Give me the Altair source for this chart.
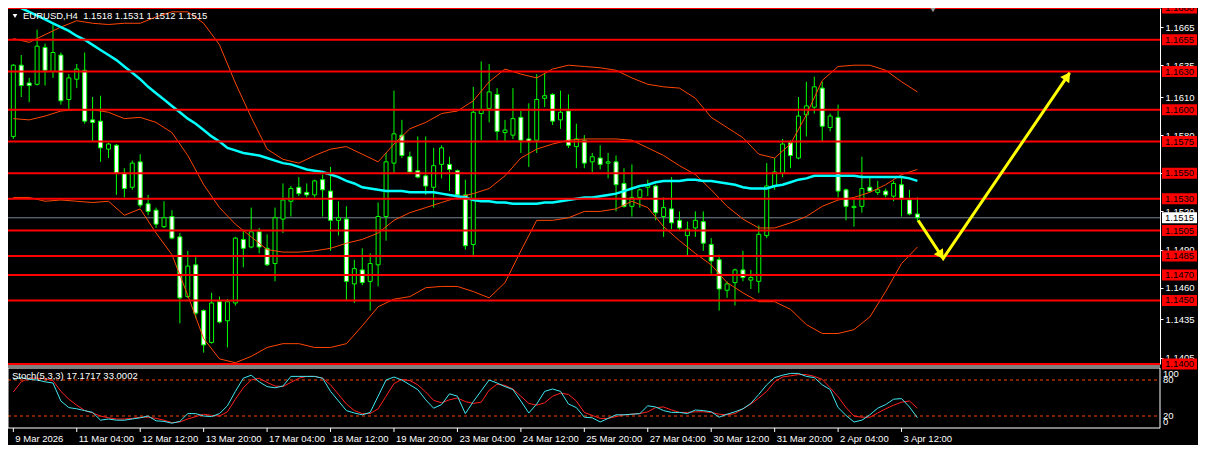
import math
import altair as alt
import pandas as pd

# ---------------- data (EURUSD H4) ----------------
opens = [1.1579, 1.1635, 1.1621, 1.1620, 1.1649, 1.1630, 1.1643, 1.1608, 1.1624, 1.1631,
         1.1592, 1.1591, 1.1569, 1.1572, 1.1550, 1.1539, 1.1559, 1.1526, 1.1521, 1.1508,
         1.1516, 1.1500, 1.1453, 1.1478, 1.1442, 1.1417, 1.1449, 1.1434, 1.1448, 1.1498,
         1.1492, 1.1504, 1.1491, 1.1479, 1.1514, 1.1528, 1.1539, 1.1535, 1.1533, 1.1545,
         1.1536, 1.1513, 1.1514, 1.1463, 1.1474, 1.1465, 1.1478, 1.1516, 1.1558, 1.1580,
         1.1563, 1.1552, 1.1548, 1.1539, 1.1557, 1.1557, 1.1552, 1.1533, 1.1494, 1.1597,
         1.1601, 1.1612, 1.1582, 1.1580, 1.1594, 1.1577, 1.1576, 1.1609, 1.1612, 1.1592,
         1.1599, 1.1571, 1.1576, 1.1559, 1.1562, 1.1558, 1.1559, 1.1542, 1.1524, 1.1531,
         1.1539, 1.1540, 1.1516, 1.1522, 1.1513, 1.1501, 1.1507, 1.1512, 1.1494, 1.1482,
         1.1458, 1.1464, 1.1474, 1.1466, 1.1465, 1.1501, 1.1540, 1.1550, 1.1574, 1.1562,
         1.1596, 1.1602, 1.1617, 1.1586, 1.1594, 1.1537, 1.1523, 1.1524, 1.1539, 1.1535,
         1.1536, 1.1532, 1.1541, 1.1529, 1.1518]
highs = [1.1636, 1.1643, 1.1625, 1.1663, 1.1652, 1.1667, 1.1645, 1.1628, 1.1636, 1.1645,
         1.1610, 1.1611, 1.1574, 1.1573, 1.1554, 1.1560, 1.1565, 1.1533, 1.1523, 1.1528,
         1.1521, 1.1503, 1.1489, 1.1484, 1.1443, 1.1456, 1.1453, 1.1451, 1.1500, 1.1505,
         1.1523, 1.1507, 1.1502, 1.1523, 1.1542, 1.1540, 1.1547, 1.1542, 1.1545, 1.1549,
         1.1555, 1.1528, 1.1524, 1.1482, 1.1491, 1.1487, 1.1527, 1.1566, 1.1615, 1.1592,
         1.1567, 1.1579, 1.1579, 1.1570, 1.1572, 1.1563, 1.1553, 1.1545, 1.1618, 1.1638,
         1.1636, 1.1617, 1.1592, 1.1617, 1.1599, 1.1605, 1.1628, 1.1629, 1.1613, 1.1615,
         1.1612, 1.1589, 1.1580, 1.1566, 1.1572, 1.1566, 1.1564, 1.1554, 1.1557, 1.1538,
         1.1545, 1.1541, 1.1531, 1.1547, 1.1520, 1.1512, 1.1520, 1.1520, 1.1499, 1.1486,
         1.1465, 1.1475, 1.1489, 1.1474, 1.1509, 1.1558, 1.1562, 1.1577, 1.1576, 1.1610,
         1.1622, 1.1626, 1.1622, 1.1597, 1.1604, 1.1538, 1.1531, 1.1563, 1.1547, 1.1544,
         1.1538, 1.1544, 1.1548, 1.1537, 1.1531]
lows = [1.1577, 1.1610, 1.1606, 1.1619, 1.1619, 1.1625, 1.1604, 1.1600, 1.1617, 1.1589,
        1.1575, 1.1559, 1.1562, 1.1533, 1.1531, 1.1537, 1.1523, 1.1517, 1.1507, 1.1507,
        1.1498, 1.1432, 1.1452, 1.1436, 1.1409, 1.1416, 1.1432, 1.1413, 1.1446, 1.1476,
        1.1491, 1.1487, 1.1477, 1.1465, 1.1503, 1.1516, 1.1532, 1.1531, 1.1531, 1.1516,
        1.1489, 1.1501, 1.1450, 1.1448, 1.1462, 1.1442, 1.1461, 1.1497, 1.1550, 1.1562,
        1.1550, 1.1546, 1.1533, 1.1523, 1.1546, 1.1536, 1.1532, 1.1490, 1.1484, 1.1576,
        1.1590, 1.1576, 1.1575, 1.1577, 1.1566, 1.1555, 1.1566, 1.1602, 1.1588, 1.1585,
        1.1570, 1.1554, 1.1554, 1.1551, 1.1553, 1.1546, 1.1520, 1.1523, 1.1516, 1.1523,
        1.1532, 1.1513, 1.1500, 1.1506, 1.1505, 1.1485, 1.1500, 1.1489, 1.1471, 1.1442,
        1.1452, 1.1446, 1.1465, 1.1459, 1.1456, 1.1499, 1.1537, 1.1547, 1.1554, 1.1561,
        1.1579, 1.1597, 1.1575, 1.1583, 1.1531, 1.1513, 1.1508, 1.1519, 1.1535, 1.1533,
        1.1531, 1.1528, 1.1516, 1.1517, 1.1512]
closes = [1.1635, 1.1619, 1.1619, 1.1650, 1.1631, 1.1645, 1.1607, 1.1625, 1.1632, 1.1591,
          1.1590, 1.1570, 1.1573, 1.1550, 1.1538, 1.1558, 1.1525, 1.1520, 1.1510, 1.1515,
          1.1499, 1.1452, 1.1477, 1.1440, 1.1415, 1.1448, 1.1433, 1.1449, 1.1499, 1.1491,
          1.1504, 1.1492, 1.1478, 1.1515, 1.1529, 1.1538, 1.1534, 1.1533, 1.1544, 1.1537,
          1.1513, 1.1515, 1.1465, 1.1475, 1.1464, 1.1479, 1.1516, 1.1559, 1.1581, 1.1564,
          1.1551, 1.1547, 1.1540, 1.1556, 1.1570, 1.1553, 1.1533, 1.1493, 1.1598, 1.1600,
          1.1614, 1.1583, 1.1584, 1.1593, 1.1576, 1.1575, 1.1608, 1.1611, 1.1591, 1.1598,
          1.1572, 1.1577, 1.1558, 1.1563, 1.1557, 1.1559, 1.1541, 1.1524, 1.1531, 1.1537,
          1.1541, 1.1519, 1.1523, 1.1511, 1.1507, 1.1506, 1.1513, 1.1495, 1.1481, 1.1459,
          1.1463, 1.1474, 1.1468, 1.1468, 1.1502, 1.1540, 1.1551, 1.1573, 1.1564, 1.1595,
          1.1603, 1.1618, 1.1587, 1.1595, 1.1536, 1.1524, 1.1524, 1.1538, 1.1536, 1.1537,
          1.1533, 1.1542, 1.1530, 1.1518, 1.1515]

ma_line = [1.1683, 1.1680, 1.1677, 1.1674, 1.1671, 1.1668, 1.1665, 1.1662, 1.1658, 1.1655,
           1.1651, 1.1647, 1.1643, 1.1639, 1.1634, 1.1629, 1.1624, 1.1618, 1.1613, 1.1608,
           1.1603, 1.1598, 1.1593, 1.1589, 1.1584, 1.1579, 1.1575, 1.1570, 1.1568, 1.1566,
           1.1565, 1.1564, 1.1562, 1.1560, 1.1558, 1.1557, 1.1555, 1.1553, 1.1552, 1.1551,
           1.1549, 1.1547, 1.1544, 1.1542, 1.1539, 1.1538, 1.1537, 1.1536, 1.1536, 1.1536,
           1.1535, 1.1535, 1.1535, 1.1535, 1.1534, 1.1533, 1.1532, 1.1531, 1.1529, 1.1528,
           1.1528, 1.1527, 1.1527, 1.1526, 1.1526, 1.1526, 1.1526, 1.1527, 1.1527, 1.1528,
           1.1529, 1.1530, 1.1531, 1.1531, 1.1532, 1.1533, 1.1534, 1.1536, 1.1538, 1.1540,
           1.1541, 1.1543, 1.1544, 1.1544, 1.1544, 1.1545, 1.1545, 1.1544, 1.1544, 1.1543,
           1.1542, 1.1541, 1.1539, 1.1538, 1.1538, 1.1538, 1.1540, 1.1541, 1.1543, 1.1545,
           1.1546, 1.1548, 1.1548, 1.1548, 1.1548, 1.1548, 1.1548, 1.1547, 1.1547, 1.1547,
           1.1547, 1.1547, 1.1547, 1.1546, 1.1544]

band_bars = list(range(0, 115, 2))
bb_upper = [1.1656, 1.1653, 1.1659, 1.1665, 1.1670, 1.1668, 1.1667, 1.1668, 1.1668, 1.1673,
            1.1677, 1.1677, 1.1668, 1.1651, 1.1621, 1.1594, 1.1569, 1.1561, 1.1558, 1.1564,
            1.1569, 1.1571, 1.1565, 1.1559, 1.1573, 1.1585, 1.1590, 1.1597, 1.1599, 1.1607,
            1.1622, 1.1632, 1.1628, 1.1625, 1.1632, 1.1635, 1.1634, 1.1633, 1.1631, 1.1625,
            1.1620, 1.1618, 1.1617, 1.1609, 1.1594, 1.1586, 1.1578, 1.1565, 1.1562, 1.1573,
            1.1596, 1.1623, 1.1634, 1.1635, 1.1635, 1.1631, 1.1622, 1.1614]
bb_middle = [1.1593, 1.1592, 1.1595, 1.1599, 1.1600, 1.1600, 1.1598, 1.1593, 1.1594, 1.1590,
             1.1582, 1.1564, 1.1541, 1.1523, 1.1510, 1.1500, 1.1490, 1.1488, 1.1488, 1.1489,
             1.1491, 1.1495, 1.1498, 1.1503, 1.1513, 1.1519, 1.1523, 1.1527, 1.1531, 1.1534,
             1.1538, 1.1548, 1.1562, 1.1569, 1.1573, 1.1576, 1.1577, 1.1577, 1.1577, 1.1576,
             1.1570, 1.1564, 1.1556, 1.1549, 1.1537, 1.1524, 1.1514, 1.1507, 1.1507, 1.1511,
             1.1516, 1.1524, 1.1529, 1.1531, 1.1535, 1.1541, 1.1549, 1.1553]
bb_lower = [1.1531, 1.1531, 1.1528, 1.1529, 1.1528, 1.1527, 1.1528, 1.1517, 1.1522, 1.1503,
            1.1486, 1.1454, 1.1420, 1.1404, 1.1401, 1.1406, 1.1413, 1.1416, 1.1416, 1.1413,
            1.1413, 1.1416, 1.1430, 1.1445, 1.1451, 1.1453, 1.1460, 1.1461, 1.1461, 1.1457,
            1.1452, 1.1464, 1.1489, 1.1513, 1.1513, 1.1515, 1.1520, 1.1520, 1.1522, 1.1528,
            1.1523, 1.1508, 1.1497, 1.1487, 1.1478, 1.1464, 1.1456, 1.1449, 1.1449, 1.1443,
            1.1431, 1.1424, 1.1424, 1.1427, 1.1437, 1.1457, 1.1479, 1.1492]

stoch_main = [81, 84, 81, 80, 77, 75, 45, 34, 32, 29,
              26, 13, 15, 13, 13, 15, 17, 20, 12, 11,
              8, 11, 24, 24, 20, 19, 24, 37, 61, 83,
              88, 77, 69, 67, 70, 86, 86, 86, 86, 83,
              61, 45, 29, 25, 22, 26, 53, 80, 85, 80,
              72, 64, 47, 33, 39, 57, 53, 24, 44, 62,
              80, 75, 69, 64, 45, 25, 40, 61, 65, 61,
              40, 34, 18, 17, 10, 16, 22, 22, 23, 24,
              37, 35, 29, 26, 26, 24, 30, 29, 27, 18,
              23, 27, 32, 41, 56, 72, 84, 88, 91, 91,
              86, 84, 72, 64, 34, 21, 10, 13, 22, 33,
              39, 48, 49, 35, 17.1717]
stoch_signal = [60, 77, 83, 83, 82, 79, 61, 48, 38, 29,
                25, 20, 17, 15, 15, 16, 18, 18, 16, 13,
                9, 10, 15, 19, 23, 21, 20, 27, 48, 67,
                80, 83, 76, 70, 69, 76, 83, 86, 86, 83,
                72, 56, 40, 29, 24, 24, 32, 53, 74, 81,
                79, 72, 60, 46, 42, 47, 50, 44, 41, 43,
                63, 73, 71, 65, 53, 41, 38, 42, 53, 58,
                56, 45, 26, 21, 16, 16, 19, 22, 23, 24,
                27, 34, 35, 30, 26, 26, 27, 27, 26, 23,
                22, 24, 32, 40, 50, 61, 77, 85, 87, 89,
                89, 86, 81, 67, 52, 34, 20, 18, 18, 25,
                32, 38, 43, 45, 33.0002]
stoch_levels = [20, 80]

levels = [1.1680, 1.1655, 1.1630, 1.1600, 1.1575, 1.1550, 1.1530, 1.1505, 1.1485, 1.1470, 1.1450, 1.1400]
price_ticks = [1.1665, 1.1635, 1.1610, 1.1580, 1.1550, 1.1520, 1.1490, 1.1460, 1.1435, 1.1405]
current_price = 1.1515

date_ticks = [0, 8, 16, 24, 32, 40, 48, 56, 64, 72, 80, 88, 96, 104, 112]
date_labels = ["9 Mar 2026", "11 Mar 04:00", "12 Mar 12:00", "13 Mar 20:00", "17 Mar 04:00",
               "18 Mar 12:00", "19 Mar 20:00", "23 Mar 04:00", "24 Mar 12:00", "25 Mar 20:00",
               "27 Mar 04:00", "30 Mar 12:00", "31 Mar 20:00", "2 Apr 04:00", "3 Apr 12:00"]

arrow_bar = [114.1, 117.25, 133.2]
arrow_price = [1.1513, 1.1483, 1.1629]

title_text = "EURUSD,H4\u00a0 1.1518 1.1531 1.1512 1.1515"
stoch_text = "Stoch(5,3,3) 17.1717 33.0002"

# ---------------- layout ----------------
W, H = 1152, 420
MAIN_H = 356
ST_TOP = 360
FONT = "Liberation Sans"
FS = 9.5
GREEN = "#00ff00"

xs = alt.Scale(domain=[-0.04, 143.96], nice=False, zero=False)
ps = alt.Scale(domain=[1.1400, 1.1680], range=[MAIN_H, 0], nice=False, zero=False)
ss = alt.Scale(domain=[0, 100], range=[H, ST_TOP], nice=False, zero=False)


def X(f):
    return alt.X(f"{f}:Q", scale=xs, axis=None)


def P(f):
    return alt.Y(f"{f}:Q", scale=ps, axis=None)


def S(f):
    return alt.Y(f"{f}:Q", scale=ss, axis=None)


n = len(opens)
bars = pd.DataFrame({"k": list(range(n)), "open": opens, "high": highs,
                     "low": lows, "close": closes})
bars["dir"] = ["up" if c >= o else "down" for o, c in zip(opens, closes)]

ma_df = pd.DataFrame({"k": list(range(n)), "v": ma_line})
bands_df = pd.concat([
    pd.DataFrame({"k": band_bars, "v": vals, "band": name})
    for name, vals in (("upper", bb_upper), ("middle", bb_middle), ("lower", bb_lower))
])
stoch_df = pd.DataFrame({"k": list(range(n)), "main": stoch_main, "signal": stoch_signal})
lev_df = pd.DataFrame({"level": levels, "label": [f"{v:.4f}" for v in levels]})
dates_df = pd.DataFrame({"k": date_ticks, "label": date_labels})
one = pd.DataFrame({"a": [0]})

# arrow
arrow_df = pd.DataFrame({"i": [0, 1, 2], "k": arrow_bar, "p": arrow_price})
PX_BAR = W / (xs.domain[1] - xs.domain[0])
PX_PRICE = MAIN_H / 0.028
heads = []
for a, b in ((0, 1), (1, 2)):
    dx = (arrow_bar[b] - arrow_bar[a]) * PX_BAR
    dy = -(arrow_price[b] - arrow_price[a]) * PX_PRICE
    L = math.hypot(dx, dy)
    ux, uy = dx / L, dy / L
    back = 4.0
    heads.append({"k": arrow_bar[b] - ux * back / PX_BAR,
                  "p": arrow_price[b] + uy * back / PX_PRICE,
                  "ang": math.degrees(math.atan2(ux, -uy)) % 360})
heads_df = pd.DataFrame(heads)

layers = []

# bid line
layers.append(alt.Chart(pd.DataFrame({"p": [current_price]})).mark_rule(
    color="#778899", strokeWidth=1).encode(y=P("p"), x=alt.value(0), x2=alt.value(W)))

# candles
layers.append(alt.Chart(bars).mark_rule(color=GREEN, strokeWidth=1, clip=True).encode(
    x=X("k"), y=P("low"), y2=alt.Y2("high:Q")))
layers.append(alt.Chart(bars).mark_bar(size=4, stroke=GREEN, strokeWidth=1, clip=True).encode(
    x=X("k"), y=P("open"), y2=alt.Y2("close:Q"),
    fill=alt.Fill("dir:N", scale=alt.Scale(domain=["up", "down"], range=["#000000", "#ffffff"]),
                  legend=None)))

# bollinger bands + moving average
layers.append(alt.Chart(bands_df).mark_line(color="#ff4500", strokeWidth=1, clip=True).encode(
    x=X("k"), y=P("v"), detail="band:N"))
layers.append(alt.Chart(ma_df).mark_line(color="#00ffff", strokeWidth=2.5, clip=True).encode(
    x=X("k"), y=P("v")))

# horizontal levels (with the price axis)
layers.append(alt.Chart(lev_df).mark_rule(color="#ff0000", strokeWidth=2).encode(
    y=alt.Y("level:Q", scale=ps, axis=alt.Axis(
        orient="right", values=price_ticks, format=".4f", grid=False, title=None,
        labelColor="#ffffff", labelFont=FONT, labelFontSize=FS, tickColor="#ffffff",
        tickSize=3, domainColor="#ffffff", labelPadding=2, labelOverlap=False,
        labelFlush=False, labelBound=False)),
    x=alt.value(0), x2=alt.value(W)))

# level label boxes
layers.append(alt.Chart(lev_df).mark_rect(color="#ff0000", yOffset=-5.5, y2Offset=5.5).encode(
    x=alt.value(W + 2), x2=alt.value(W + 37), y=P("level"), y2=alt.Y2("level:Q")))
layers.append(alt.Chart(lev_df).mark_text(color="#000000", font=FONT, fontSize=FS,
                                          align="center", baseline="middle").encode(
    x=alt.value(W + 19.5), y=P("level"), text="label:N"))

# current price box
cur_df = pd.DataFrame({"p": [current_price], "label": [f"{current_price:.4f}"]})
layers.append(alt.Chart(cur_df).mark_rect(color="#ffffff", yOffset=-5.5, y2Offset=5.5).encode(
    x=alt.value(W + 2), x2=alt.value(W + 37), y=P("p"), y2=alt.Y2("p:Q")))
layers.append(alt.Chart(cur_df).mark_text(color="#000000", font=FONT, fontSize=FS,
                                          align="center", baseline="middle").encode(
    x=alt.value(W + 19.5), y=P("p"), text="label:N"))

# yellow forecast arrows
layers.append(alt.Chart(arrow_df).mark_line(color="#ffff00", strokeWidth=3).encode(
    x=X("k"), y=P("p"), order="i:Q"))
layers.append(alt.Chart(heads_df).mark_point(shape="triangle-up", filled=True, color="#ffff00",
                                             size=120, opacity=1).encode(
    x=X("k"), y=P("p"), angle=alt.Angle("ang:Q", scale=None)))

# titles / markers
layers.append(alt.Chart(one).mark_text(color="#ffffff", font=FONT, fontSize=FS, align="left",
                                       baseline="middle", text=title_text).encode(
    x=alt.value(15), y=alt.value(8)))
layers.append(alt.Chart(one).mark_point(shape="triangle-down", filled=True, color="#ffffff",
                                        size=22, opacity=1).encode(
    x=alt.value(7), y=alt.value(8)))
layers.append(alt.Chart(one).mark_point(shape="triangle-down", filled=True, color="#9a9a9a",
                                        size=40, opacity=1).encode(
    x=alt.value(925), y=alt.value(1.5)))

# separator between panels
layers.append(alt.Chart(one).mark_rule(color="#ffffff", strokeWidth=1).encode(
    y=alt.value(358), x=alt.value(0), x2=alt.value(W)))

# stochastic panel
layers.append(alt.Chart(pd.DataFrame({"lv": stoch_levels})).mark_rule(
    color="#ff4500", strokeWidth=1, strokeDash=[3, 3]).encode(
    y=S("lv"), x=alt.value(0), x2=alt.value(W)))
layers.append(alt.Chart(stoch_df).mark_line(color="#ff2020", strokeWidth=1).encode(
    x=X("k"), y=S("signal")))
layers.append(alt.Chart(stoch_df).mark_line(color="#40e8f0", strokeWidth=1).encode(
    x=X("k"), y=S("main")))
layers.append(alt.Chart(pd.DataFrame({"top": [100], "bot": [0]})).mark_rect(
    fillOpacity=0, stroke="#ffffff", strokeWidth=1).encode(
    x=alt.value(0), x2=alt.value(W), y=S("top"), y2=alt.Y2("bot:Q")))
layers.append(alt.Chart(one).mark_text(color="#ffffff", font=FONT, fontSize=FS, align="left",
                                       baseline="middle", text=stoch_text).encode(
    x=alt.value(4), y=alt.value(368)))
for val, lab, dy in ((100, "100", 6), (80, "80", 0), (20, "20", 0), (0, "0", -6)):
    layers.append(alt.Chart(pd.DataFrame({"v": [val], "t": [lab]})).mark_text(
        color="#ffffff", font=FONT, fontSize=FS, align="left", baseline="middle", dy=dy).encode(
        x=alt.value(W + 3), y=S("v"), text="t:N"))

# time axis (ticks + labels placed through the bar scale)
layers.append(alt.Chart(dates_df).mark_rule(color="#ffffff", strokeWidth=1).encode(
    x=X("k"), y=alt.value(H), y2=alt.value(H + 4)))
layers.append(alt.Chart(dates_df).mark_text(color="#ffffff", font=FONT, fontSize=FS,
                                            align="left", baseline="middle", dx=2).encode(
    x=X("k"), y=alt.value(H + 11), text="label:N"))

chart = alt.layer(*layers).properties(
    width=W, height=H, background="#000000",
    padding={"left": 0, "top": 0, "right": 38, "bottom": 17},
    autosize=alt.AutoSizeParams(type="none"),
).resolve_scale(y="independent").configure_view(stroke=None)

chart.save("out.html", embed_options={"renderer": "svg", "actions": False})
